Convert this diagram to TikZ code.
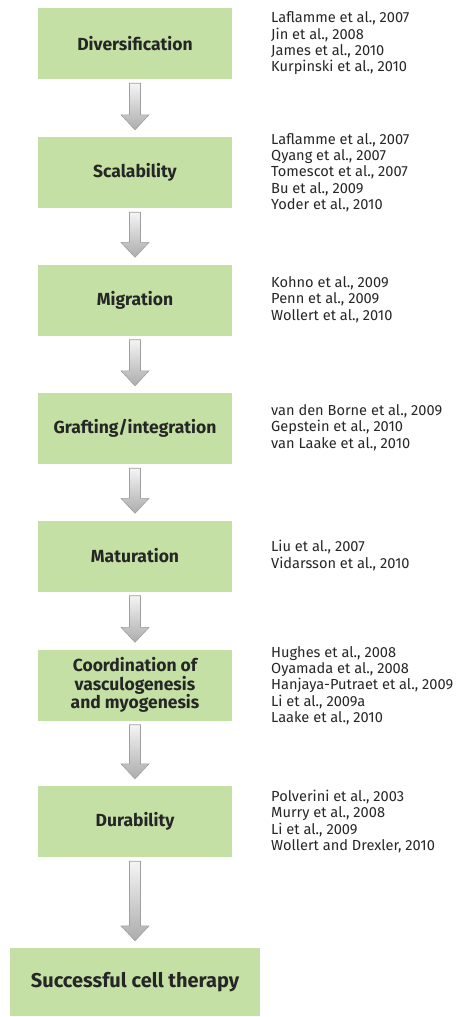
\documentclass[tikz,border=0pt]{standalone}
\usepackage{fontspec}
\setmainfont{Fira Sans}
\usetikzlibrary{calc}
\definecolor{boxgreen}{HTML}{C5E0A5}
\tikzset{
  stage/.style={fill=boxgreen, draw=none, minimum width=194pt, minimum height=71pt, inner sep=0pt,
    align=center, font=\fontsize{17.5}{18.5}\selectfont\bfseries, text=black!85},
  final/.style={fill=boxgreen, draw=none, minimum width=250pt, minimum height=68pt, inner sep=0pt,
    align=center, font=\fontsize{20}{22}\selectfont\bfseries, text=black!85},
  refs/.style={anchor=west, align=left, inner sep=0pt, font=\fontsize{14.6}{16.3}\selectfont, text=black!85},
  flowarrow/.style={top color=gray!8, bottom color=gray!65, draw=gray!75, line width=0.6pt, line join=miter}
}
\newcommand{\blockarrow}[2]{%
  \path[flowarrow] let \p1=($(#1.south)+(0,4)$), \p2=($(#2.north)+(0,-7)$) in
    (\x1-5.5pt,\y1) -- (\x1+5.5pt,\y1) -- (\x1+5.5pt,\y2+15pt) -- (\x1+14pt,\y2+15pt)
    -- (\x1,\y2) -- (\x1-14pt,\y2+15pt) -- (\x1-5.5pt,\y2+15pt) -- cycle;}
\begin{document}
\begin{tikzpicture}[x=1pt,y=-1pt]
\useasboundingbox (0,0) rectangle (458,1017);
\node[stage] (s1) at (135,43.5) {Diversification};
\node[stage] (s2) at (135,172.5) {Scalability};
\node[stage] (s3) at (135,300) {Migration};
\node[stage] (s4) at (135,428.5) {Grafting/integration};
\node[stage] (s5) at (135,556) {Maturation};
\node[stage] (s6) at (135,685) {Coordination of\\vasculogenesis\\and myogenesis};
\node[stage] (s7) at (135,821.5) {Durability};
\node[final] (s8) at (135,982) {Successful cell therapy};

\node[refs] (r1) at (271,43.5) {Laflamme et al., 2007\\Jin et al., 2008\\James et al., 2010\\Kurpinski et al., 2010};
\node[refs] (r2) at (271,172.5) {Laflamme et al., 2007\\Qyang et al., 2007\\Tomescot et al., 2007\\Bu et al., 2009\\Yoder et al., 2010};
\node[refs] (r3) at (271,299.5) {Kohno et al., 2009\\Penn et al., 2009\\Wollert et al., 2010};
\node[refs] (r4) at (271,427.5) {van den Borne et al., 2009\\Gepstein et al., 2010\\van Laake et al., 2010};
\node[refs] (r5) at (271,555.5) {Liu et al., 2007\\Vidarsson et al., 2010};
\node[refs] (r6) at (271,685.5) {Hughes et al., 2008\\Oyamada et al., 2008\\Hanjaya-Putraet et al., 2009\\Li et al., 2009a\\Laake et al., 2010};
\node[refs] (r7) at (271,821.5) {Polverini et al., 2003\\Murry et al., 2008\\Li et al., 2009\\Wollert and Drexler, 2010};

\blockarrow{s1}{s2}
\blockarrow{s2}{s3}
\blockarrow{s3}{s4}
\blockarrow{s4}{s5}
\blockarrow{s5}{s6}
\blockarrow{s6}{s7}
\blockarrow{s7}{s8}
\end{tikzpicture}
\end{document}
